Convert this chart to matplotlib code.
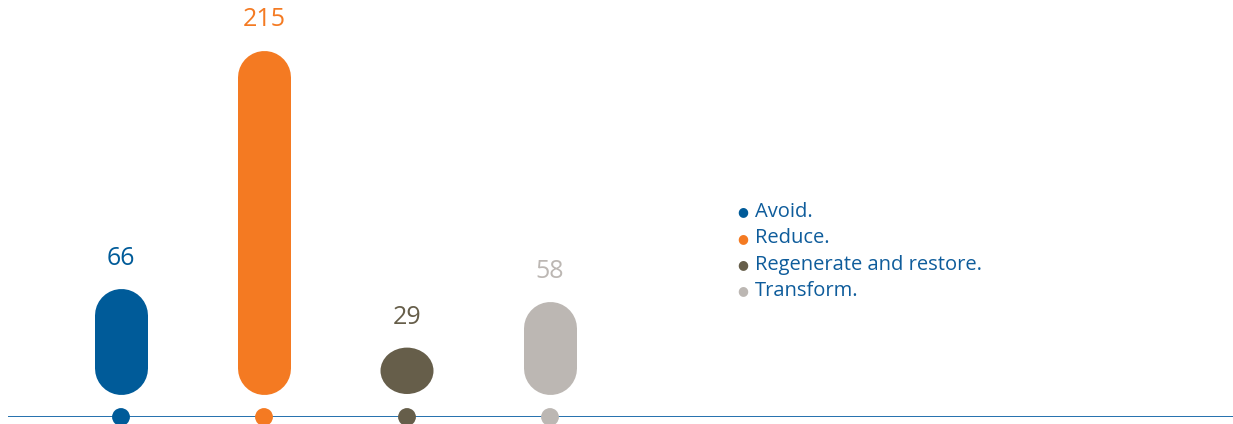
import matplotlib.pyplot as plt
from matplotlib.patches import Ellipse

# data
categories = ["Avoid.", "Reduce.", "Regenerate and restore.", "Transform."]
values = [66, 215, 29, 58]
colors = ["#005B99", "#F47A22", "#665E4A", "#BCB7B3"]

plt.rcParams['font.family'] = ['Open Sans', 'DejaVu Sans']

W, H, DPI = 1233, 424, 100
fig = plt.figure(figsize=(W / DPI, H / DPI), dpi=DPI)

# axes placed in pixel terms: line at 7px from bottom, starts at x=8
px_per_x = 143.0   # pixels per category step
px_per_y = 1.6     # pixels per value unit
gap = 23 / px_per_y  # bar baseline sits above the axis line
ax = fig.add_axes([8 / W, 7 / H, (W - 8) / W, (H - 7) / H])
x0 = (8 - 121) / px_per_x
ax.set_xlim(x0, x0 + (W - 8) / px_per_x)
ax.set_ylim(-gap, -gap + (H - 7) / px_per_y)
ax.axis('off')

bar_px = 53
bar_w = bar_px / px_per_x
r_y = bar_px / 2 / px_per_y

for i, (v, c) in enumerate(zip(values, colors)):
    if v >= 2 * r_y:
        # capsule: thick line with round caps
        ax.plot([i, i], [r_y, v - r_y], color=c, lw=bar_px * 72 / DPI,
                solid_capstyle='round', zorder=2)
    else:
        ax.add_patch(Ellipse((i, v / 2), bar_w, v, facecolor=c,
                             edgecolor='none', zorder=2))
    ax.text(i, v + 30 / px_per_y, str(v), ha='center', va='center',
            fontsize=18, color=c)

# axis line with category dots
ax.axhline(-gap, color="#0F62A6", lw=2.0, zorder=1)
ax.scatter(range(len(values)), [-gap] * len(values), s=165, c=colors,
           zorder=3, clip_on=False, linewidths=0)

# legend
for k, (name, c) in enumerate(zip(categories, colors)):
    yy = 1 - (212 + 26.3 * k) / H
    fig.text(743 / W, yy, "\u25CF", color=c, fontsize=9, ha='center', va='center')
    fig.text(755 / W, yy, name, color="#0E5C9B", fontsize=14.5, ha='left', va='center')

fig.savefig("out.png", dpi=DPI)
